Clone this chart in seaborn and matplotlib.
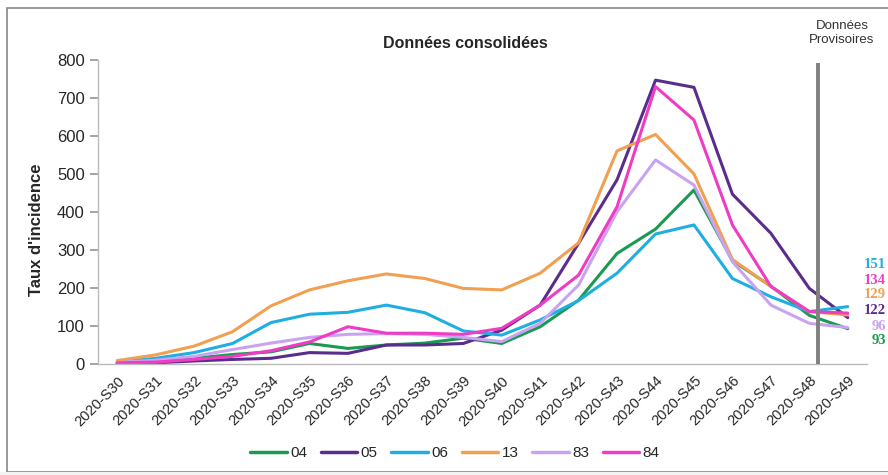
import pandas as pd
import matplotlib.pyplot as plt
import seaborn as sns
from matplotlib.patches import Rectangle

# semaines 2020-S30 .. 2020-S49
weeks = [f"2020-S{w}" for w in range(30, 50)]

d04 = [3, 8, 15, 25, 32, 54, 41, 50, 55, 68, 54, 98, 168, 291, 355, 458, 272, 205, 128, 93]
d05 = [2, 3, 8, 12, 15, 30, 28, 50, 50, 54, 89, 155, 318, 485, 747, 728, 447, 344, 199, 122]
d06 = [5, 15, 30, 54, 109, 131, 136, 155, 135, 87, 76, 116, 167, 239, 342, 366, 225, 177, 138, 151]
d13 = [9, 24, 47, 85, 153, 195, 219, 237, 225, 199, 195, 239, 319, 561, 604, 500, 275, 204, 138, 129]
d83 = [4, 10, 20, 38, 55, 70, 78, 80, 78, 70, 59, 107, 208, 401, 537, 471, 269, 155, 107, 96]
d84 = [3, 5, 12, 20, 35, 58, 98, 81, 81, 78, 94, 155, 234, 414, 730, 642, 366, 204, 138, 134]

depts = ["04", "05", "06", "13", "83", "84"]
colors = ["#1a9a50", "#5a2d8c", "#1eaee2", "#f0a050", "#c9a3f0", "#ee3cc4"]
last_labels = ["151", "134", "129", "122", "96", "93"]
label_colors = ["#1eaee2", "#ee3cc4", "#f0a050", "#5a2d8c", "#c9a3f0", "#1a9a50"]

rows = []
for dep, vals in zip(depts, [d04, d05, d06, d13, d83, d84]):
    for i, v in enumerate(vals):
        rows.append({"x": i, "semaine": weeks[i], "dep": dep, "taux": v})
df = pd.DataFrame(rows)

sns.set_theme(style="white")
plt.rcParams['font.family'] = ['Liberation Sans', 'DejaVu Sans']

fig = plt.figure(figsize=(8.88, 4.75), dpi=100)
ax = fig.add_axes([98 / 888, 1 - 364 / 475, (867 - 98) / 888, (364 - 60) / 475])

sns.lineplot(data=df, x="x", y="taux", hue="dep", palette=dict(zip(depts, colors)),
             linewidth=2.2, ax=ax, legend=True)

ax.set_xlim(-0.5, len(weeks) - 0.5)
ax.set_ylim(0, 800)
ax.set_xticks(range(len(weeks)))
ax.set_xticklabels(weeks, rotation=45, ha='right', rotation_mode='anchor', fontsize=10.5)
ax.set_yticks(range(0, 801, 100))
ax.tick_params(axis='y', labelsize=12, length=6, color='#999999', left=True, direction='out')
ax.tick_params(axis='x', length=0, pad=7)
ax.set_xlabel("")
ax.set_ylabel("Taux d'incidence", fontsize=12, fontweight='bold')
ax.yaxis.set_label_coords(-0.07, 0.44)
for s in ['top', 'right']:
    ax.spines[s].set_visible(False)
for s in ['left', 'bottom']:
    ax.spines[s].set_color('#bbbbbb')
    ax.spines[s].set_linewidth(1)

# limite données provisoires
ax.vlines(18.23, 0, 792, color='#808080', linewidth=2.8, zorder=5)

leg = ax.legend(loc='upper center', bbox_to_anchor=(0.464, -0.225), ncol=6, frameon=False,
                fontsize=11, handlelength=2.4, handletextpad=0.2, columnspacing=0.9)
for line in leg.get_lines():
    line.set_linewidth(2.5)

fig.text(465 / 888, 1 - 44 / 475, "Données consolidées", ha='center', va='center',
         fontsize=11.5, fontweight='bold')
fig.text(842 / 888, 1 - 33 / 475, "Données\nProvisoires", ha='center', va='center',
         fontsize=9.5, color='#333333', linespacing=1.2)

# valeurs de la dernière semaine
ys = [265, 280, 295, 310, 326, 341]
for t, c, y in zip(last_labels, label_colors, ys):
    fig.text(886 / 888, 1 - y / 475, t, ha='right', va='center', fontsize=10.5,
             fontweight='bold', color=c, family=['Liberation Serif', 'DejaVu Serif'])

# cadre
fig.patches.append(Rectangle((7 / 888, 1 - 472 / 475), 1, (472 - 8) / 475,
                             transform=fig.transFigure, fill=False, edgecolor='#888888',
                             linewidth=1.2))
fig.patches.append(Rectangle((0, 0), 1, 1 - 472 / 475, transform=fig.transFigure,
                             facecolor='#f3f3f3', edgecolor='none'))

fig.savefig("out.png", dpi=100)
